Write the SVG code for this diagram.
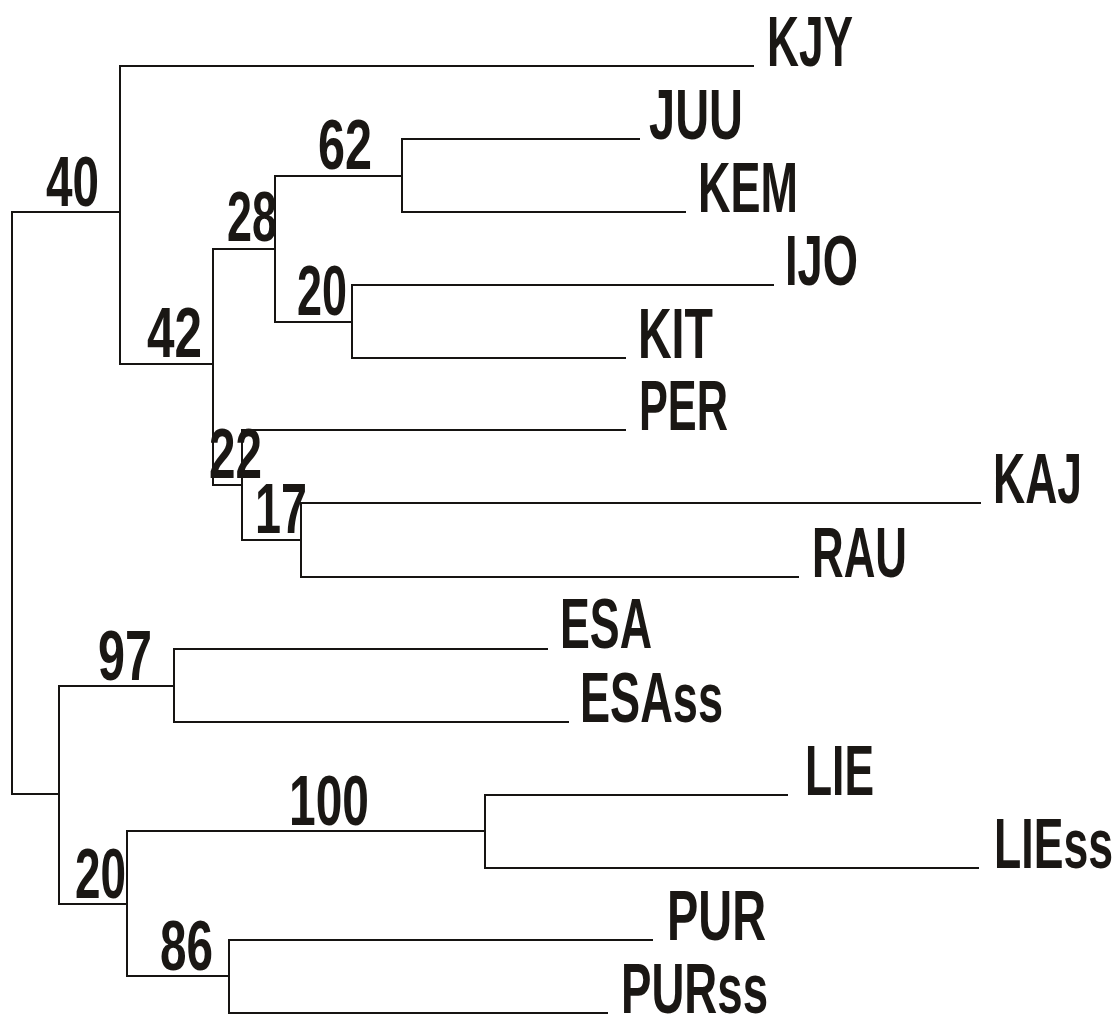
<svg xmlns="http://www.w3.org/2000/svg" width="1118" height="1015" viewBox="0 0 1118 1015">
  <style>
    .br { fill: none; stroke: #161412; stroke-width: 2; stroke-linecap: square; }
    text { font-family: "Liberation Sans", Arial, sans-serif; font-weight: bold; font-size: 70px; fill: #1a1714; }
  </style>
  <rect width="1118" height="1015" fill="#ffffff"/>

  <!-- branches of the tree -->
  <g id="connectors">
    <path class="br" d="M120,212 H12 V794 H59"/>
    <path class="br" d="M753,66 H120 V364 H213"/>
    <path class="br" d="M275,249 H213 V485 H242"/>
    <path class="br" d="M402,176 H275 V322 H352"/>
    <path class="br" d="M639,139 H402 V212 H685"/>
    <path class="br" d="M773,285 H352 V358 H625"/>
    <path class="br" d="M625,430 H242 V540 H301"/>
    <path class="br" d="M980,503 H301 V577 H798"/>
    <path class="br" d="M174,686 H59 V904 H127"/>
    <path class="br" d="M547,649 H174 V722 H568"/>
    <path class="br" d="M485,831 H127 V976 H229"/>
    <path class="br" d="M787,795 H485 V868 H978"/>
    <path class="br" d="M652,940 H229 V1013 H607"/>
  </g>

  <!-- terminal taxa -->
  <g id="tip-KJY"><text x="767" y="66" textLength="86" lengthAdjust="spacingAndGlyphs">KJY</text></g>
  <g id="tip-JUU"><text x="649" y="139" textLength="94" lengthAdjust="spacingAndGlyphs">JUU</text></g>
  <g id="tip-KEM"><text x="698" y="212" textLength="100" lengthAdjust="spacingAndGlyphs">KEM</text></g>
  <g id="tip-IJO"><text x="785" y="285" textLength="73" lengthAdjust="spacingAndGlyphs">IJO</text></g>
  <g id="tip-KIT"><text x="638" y="358" textLength="75" lengthAdjust="spacingAndGlyphs">KIT</text></g>
  <g id="tip-PER"><text x="639" y="430" textLength="89" lengthAdjust="spacingAndGlyphs">PER</text></g>
  <g id="tip-KAJ"><text x="993" y="503" textLength="89" lengthAdjust="spacingAndGlyphs">KAJ</text></g>
  <g id="tip-RAU"><text x="812" y="577" textLength="95" lengthAdjust="spacingAndGlyphs">RAU</text></g>
  <g id="tip-ESA"><text x="560" y="648" textLength="92" lengthAdjust="spacingAndGlyphs">ESA</text></g>
  <g id="tip-ESAss"><text x="580" y="722" textLength="143" lengthAdjust="spacingAndGlyphs">ESAss</text></g>
  <g id="tip-LIE"><text x="805" y="795" textLength="69" lengthAdjust="spacingAndGlyphs">LIE</text></g>
  <g id="tip-LIEss"><text x="994" y="868" textLength="119" lengthAdjust="spacingAndGlyphs">LIEss</text></g>
  <g id="tip-PUR"><text x="667" y="940" textLength="99" lengthAdjust="spacingAndGlyphs">PUR</text></g>
  <g id="tip-PURss"><text x="621" y="1013" textLength="147" lengthAdjust="spacingAndGlyphs">PURss</text></g>

  <!-- bootstrap support at internal nodes -->
  <g id="node-40"><text x="46" y="206" textLength="53" lengthAdjust="spacingAndGlyphs">40</text></g>
  <g id="node-42"><text x="147" y="357" textLength="55" lengthAdjust="spacingAndGlyphs">42</text></g>
  <g id="node-28"><text x="227" y="241" textLength="50" lengthAdjust="spacingAndGlyphs">28</text></g>
  <g id="node-62"><text x="318" y="169" textLength="54" lengthAdjust="spacingAndGlyphs">62</text></g>
  <g id="node-20a"><text x="297" y="315" textLength="50" lengthAdjust="spacingAndGlyphs">20</text></g>
  <g id="node-22"><text x="209" y="478" textLength="53" lengthAdjust="spacingAndGlyphs">22</text></g>
  <g id="node-17"><text x="255" y="533" textLength="52" lengthAdjust="spacingAndGlyphs">17</text></g>
  <g id="node-97"><text x="98" y="680" textLength="54" lengthAdjust="spacingAndGlyphs">97</text></g>
  <g id="node-20b"><text x="75" y="898" textLength="51" lengthAdjust="spacingAndGlyphs">20</text></g>
  <g id="node-100"><text x="289" y="825" textLength="80" lengthAdjust="spacingAndGlyphs">100</text></g>
  <g id="node-86"><text x="160" y="970" textLength="53" lengthAdjust="spacingAndGlyphs">86</text></g>
</svg>
